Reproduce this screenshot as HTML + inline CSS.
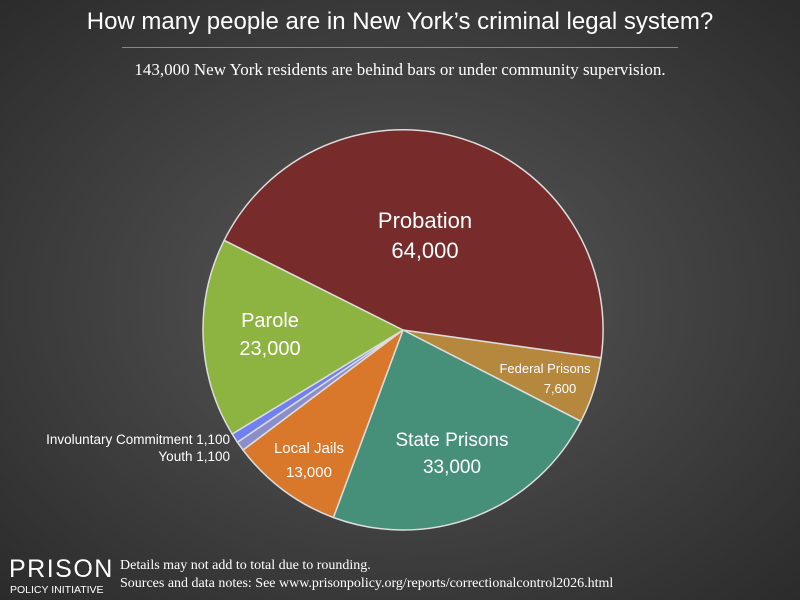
<!DOCTYPE html>
<html><head><meta charset="utf-8"><style>
html,body{margin:0;padding:0}
body{width:800px;height:600px;overflow:hidden;background:radial-gradient(ellipse at 50% 50%,#595959 0%,#444 45%,#2b2b2b 100%);font-family:"Liberation Sans",sans-serif;position:relative}
.t{position:absolute;color:#fff;white-space:nowrap}
</style></head><body>
<div class="t" style="left:0;width:800px;text-align:center;top:8px;font-size:24px">How many people are in New York’s criminal legal system?</div>
<div style="position:absolute;left:122px;width:556px;top:47px;border-top:1px solid #888"></div>
<div class="t" style="left:0;width:800px;text-align:center;top:60px;font-size:17px;font-family:'Liberation Serif',serif">143,000 New York residents are behind bars or under community supervision.</div>
<svg width="800" height="600" style="position:absolute;left:0;top:0">
<g stroke="#ddd" stroke-width="1.5" stroke-linejoin="round">
<path d="M403,330 L601.1,357.8 A200,200 0 0 1 580.9,421.3Z" fill="#b5883e"/>
<path d="M403,330 L580.9,421.3 A200,200 0 0 1 333.4,517.5Z" fill="#46907a"/>
<path d="M403,330 L333.4,517.5 A200,200 0 0 1 243.0,450.0Z" fill="#d9782a"/>
<path d="M403,330 L243.0,450.0 A200,200 0 0 1 237.4,442.2Z" fill="#8a8fcc"/>
<path d="M403,330 L237.4,442.2 A200,200 0 0 1 232.2,434.0Z" fill="#7080f0"/>
<path d="M403,330 L232.2,434.0 A200,200 0 0 1 224.2,240.3Z" fill="#8db441"/>
<path d="M403,330 L224.2,240.3 A200,200 0 0 1 601.1,357.8Z" fill="#772b2b"/>
</g>
<g fill="#fff" font-family="Liberation Sans,sans-serif" text-anchor="middle">
<text x="425" y="228" font-size="22">Probation</text>
<text x="425" y="258" font-size="22">64,000</text>
<text x="270" y="327" font-size="20">Parole</text>
<text x="270" y="355" font-size="20">23,000</text>
<text x="452" y="446" font-size="19">State Prisons</text>
<text x="452" y="473" font-size="19">33,000</text>
<text x="309" y="453" font-size="15">Local Jails</text>
<text x="309" y="477" font-size="15">13,000</text>
<text x="545" y="373" font-size="13">Federal Prisons</text>
<text x="560" y="393" font-size="13">7,600</text>
<text x="230" y="444" font-size="13.5" text-anchor="end">Involuntary Commitment 1,100</text>
<text x="230" y="461" font-size="13.5" text-anchor="end">Youth 1,100</text>
</g>
</svg>
<div class="t" style="left:9px;top:555px;font-size:25px;letter-spacing:1.5px">PRISON</div>
<div class="t" style="left:10px;top:584px;font-size:10.5px;letter-spacing:0px">POLICY INITIATIVE</div>
<div class="t" style="left:120px;top:558px;font-size:14px;font-family:'Liberation Serif',serif">Details may not add to total due to rounding.</div>
<div class="t" style="left:120px;top:576px;font-size:14px;font-family:'Liberation Serif',serif">Sources and data notes: See www.prisonpolicy.org/reports/correctionalcontrol2026.html</div>
</body></html>
